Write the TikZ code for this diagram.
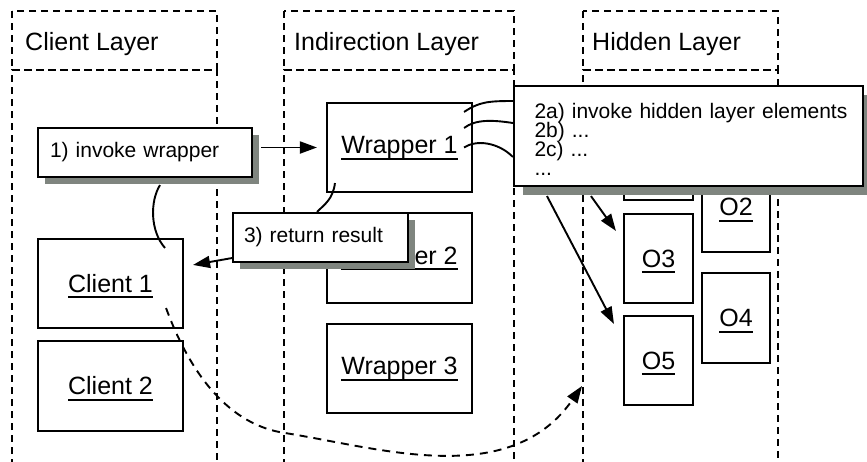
\documentclass[tikz,border=0pt]{standalone}
\usepackage{fontspec}
\setmainfont{Liberation Sans}
\usetikzlibrary{arrows.meta,shadows}
\definecolor{shadowgray}{RGB}{127,133,127}
\newcommand\myul[1]{\setbox0\hbox{#1}\rlap{\smash{\rule[-6pt]{\wd0}{2pt}}}\box0}
\newcommand\calloutfont{\fontsize{21}{19}\selectfont\lineskiplimit=-50pt\relax}
\begin{document}
\begin{tikzpicture}[x=1pt,y=-1pt,
  layer/.style={draw, line width=1.7pt, dash pattern=on 7pt off 5pt},
  obj/.style={draw, line width=2.1pt, fill=white, font={\fontsize{25}{30}\selectfont}, inner sep=0pt},
  callout/.style={draw, line width=2.1pt, fill=white, font={\calloutfont}, align=left, inner ysep=0pt,
    drop shadow={shadow xshift=#1, shadow yshift=-#1, fill=shadowgray, opacity=1}},
  callout/.default=7pt,
  conn/.style={line width=1.9pt},
  arr/.style={conn, -{Triangle[length=17pt,width=12pt]}},
  hdr/.style={anchor=base west, inner sep=0pt, font={\fontsize{25}{30}\selectfont}}]
\useasboundingbox (0,0) rectangle (867,461);
% layers
\draw[layer] (12,11) rectangle (217,70);
\draw[layer] (12,466) -- (12,70) -- (217,70) -- (217,466);
\draw[layer] (284,11) rectangle (514,70);
\draw[layer] (284,466) -- (284,70) -- (514,70) -- (514,466);
\draw[layer] (583,11) rectangle (778,70);
\draw[layer] (583,466) -- (583,70) -- (778,70) -- (778,466);
\node[hdr] (lc) at (25,50) {Client Layer};
\node[hdr] (li) at (294,50) {Indirection Layer};
\node[hdr] (lh) at (592,50) {Hidden Layer};
% boxes
\node[obj, minimum width=145pt, minimum height=89pt] (client1) at (110.5,283.5) {\myul{Client 1}};
\node[obj, minimum width=145pt, minimum height=90pt] (client2) at (110.5,386) {\myul{Client 2}};
\node[obj, minimum width=145pt, minimum height=89pt] (w1) at (399.5,147.5) {\myul{Wrapper 1}};
\node[obj, minimum width=145pt, minimum height=90pt] (w2) at (399.5,258) {\myul{Wrapper 2}};
\node[obj, minimum width=145pt, minimum height=89pt] (w3) at (399.5,368.5) {\myul{Wrapper 3}};
\node[obj, minimum width=69pt, minimum height=90pt] (o1) at (658.5,155) {};
\node[obj, minimum width=68pt, minimum height=90pt] (o2) at (736,207) {\myul{O2}};
\node[obj, minimum width=69pt, minimum height=89pt] (o3) at (658.5,258.5) {\myul{O3}};
\node[obj, minimum width=68pt, minimum height=90pt] (o4) at (736,318) {\myul{O4}};
\node[obj, minimum width=69pt, minimum height=89pt] (o5) at (658.5,360.5) {\myul{O5}};
% callouts
\node[callout, text width=190pt, inner xsep=12pt, minimum height=49pt] (c1) at (145,152.5) {1) invoke wrapper};
\node[callout, text width=153pt, inner xsep=11pt, minimum height=49pt] (c3) at (320.5,237.5) {3) return result};
\node[callout=9pt, text width=308pt, inner xsep=20.5pt, minimum height=100pt] (c2) at (688.5,136)
  {\rule{0pt}{21pt}\mbox{2a) invoke hidden layer elements}\\2b) ...\\2c) ...\\...};
% connectors
\coordinate (c1r) at ([xshift=8pt]c1.east);
\draw[conn] ([shift={(54.5,10)}]client1.north) .. controls +(-15,-17) and +(-10,16) .. ([shift={(15,7)}]c1.south);
\draw[arr, shorten >=9pt] (c1r |- w1.west) -- (w1.west);
\draw[conn] ([shift={(9,-10)}]w1.south west) .. controls +(-2,16) and +(8,-8) .. ([shift={(-3.5,0)}]c3.north);
\draw[arr] ([shift={(0,-5)}]c3.south west) -- ([shift={(9,27)}]client1.north east);
\draw[conn] ([shift={(-9,10)}]w1.north east) .. controls +(15,-10) and +(-25,0) .. ([shift={(0,-35)}]c2.west);
\draw[conn] ([shift={(-9,26)}]w1.north east) .. controls +(12,-9) and +(-20,-3) .. ([shift={(0,-13)}]c2.west);
\draw[conn] ([shift={(-9,0)}]w1.east) .. controls +(12,-8) and +(-15,-15) .. ([shift={(0,21)}]c2.west);
\draw[arr] ([shift={(34,9)}]c2.south west) -- ([shift={(-9,9)}]o5.north west);
\draw[arr] ([shift={(78,9)}]c2.south west) -- ([shift={(-7,18)}]o3.north west);
\coordinate (hl) at (582,386);
\coordinate (dmid) at (285,433);
\draw[arr, dash pattern=on 8pt off 6pt] ([shift={(-18,-21)}]client1.south east) .. controls +(25,68) and +(-55,-8) .. (dmid) .. controls +(95,15) and +(-72,104) .. (hl);
\end{tikzpicture}
\end{document}
